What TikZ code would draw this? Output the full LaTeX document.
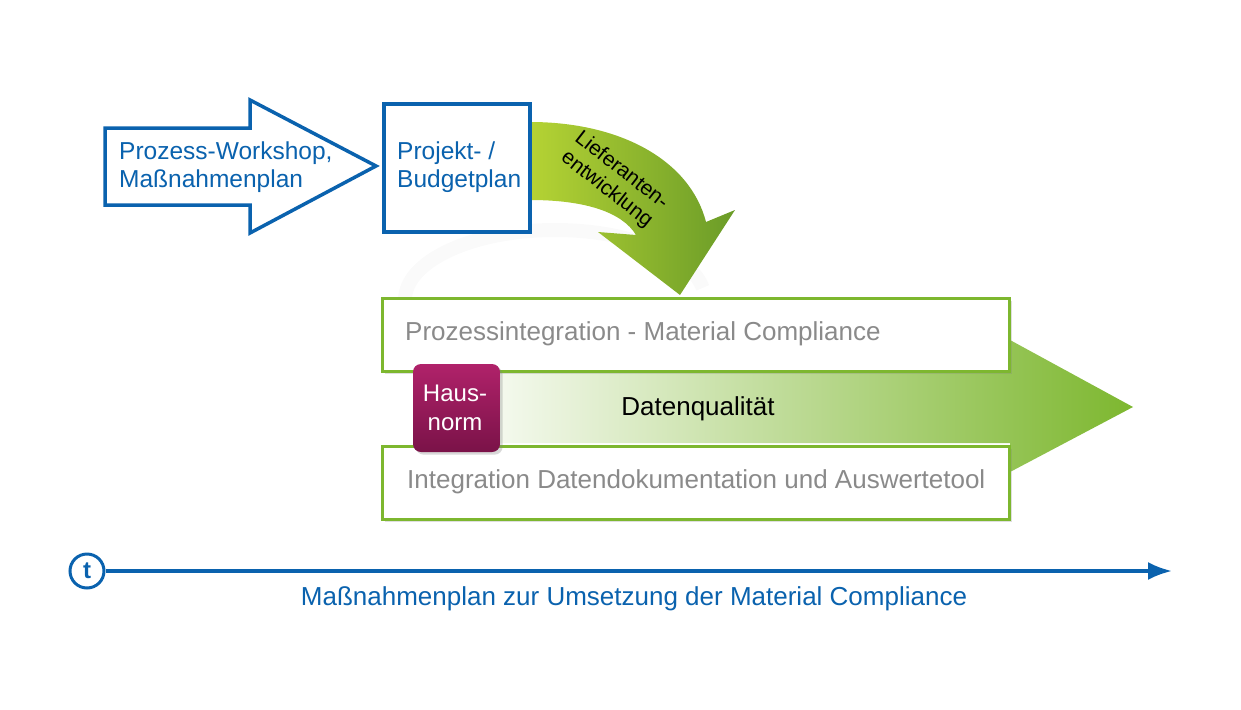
\documentclass[tikz,border=0pt]{standalone}
\usepackage{fontspec}
\setmainfont{Liberation Sans}
\usetikzlibrary{shadows,fadings,arrows.meta}
\definecolor{myblue}{HTML}{0A62AE}
\definecolor{mygreen}{HTML}{7DB72F}
\definecolor{lgreen}{HTML}{B5D334}
\definecolor{mygray}{HTML}{8A8A8A}
\definecolor{purpA}{HTML}{B0226A}
\definecolor{purpB}{HTML}{7A1248}
\begin{document}
\begin{tikzpicture}[x=1pt,y=-1pt,
  txt/.style={font=\fontsize{26}{28}\selectfont, align=left, inner sep=0},
  ttxt/.style={font=\fontsize{24.5}{28}\selectfont, align=left, inner sep=0},
  gbox/.style={draw=mygreen, line width=3pt, fill=white, drop shadow={opacity=0.25}}]
\useasboundingbox (0,0) rectangle (1241,709);
% faint ring
\draw[gray!4, line width=14pt] (405,300) arc[start angle=180,end angle=10,x radius=150,y radius=-70];
% big green arrow
\shade[left color=white, right color=mygreen]
  (440,372) -- (1010,372) -- (1010,340) -- (1133,407) -- (1010,472) -- (1010,443) -- (440,443) -- cycle;
\node[gbox, minimum width=627pt, minimum height=73pt, anchor=north west] (b1) at (381,297) {};
\node[txt, text=mygray, anchor=west] (t1) at (405,334) {Prozessintegration - Material Compliance};
\node[gbox, minimum width=627pt, minimum height=73pt, anchor=north west] (b2) at (381,445) {};
\node[txt, text=mygray, anchor=west] (t2) at (407,482) {Integration Datendokumentation und Auswertetool};
\node[txt, anchor=center] (dq) at (698,409) {Datenqualität};
% Hausnorm
\shade[top color=purpA, bottom color=purpB, rounded corners=8pt, drop shadow={opacity=0.3}]
  (413,364) rectangle (500,452);
\node[ttxt, text=white, align=center, font=\fontsize{24}{29}\selectfont] (hn) at (455,408) {Haus-\\norm};
% blue arrow
\draw[myblue, line width=3.5pt, fill=white, line join=miter]
  (105,128) -- (250,128) -- (250,100) -- (376,166) -- (250,233) -- (250,205) -- (105,205) -- cycle;
\node[ttxt, text=myblue, anchor=west] (pw) at (119,167) {Prozess-Workshop,\\Maßnahmenplan};
% curved green arrow
\shade[left color=lgreen, right color=mygreen!85!black]
  (530,122) .. controls (620,122) and (690,160) .. (706,222)
  -- (735,210) -- (680,295) -- (598,232) -- (636,235)
  .. controls (622,212) and (585,200) .. (530,200) -- cycle;
\node[font=\fontsize{21}{24}\selectfont, align=center, rotate=-38, inner sep=0] (lf) at (614,180) {Lieferanten-\\entwicklung};
% Projekt box
\node[draw=myblue, line width=3.5pt, fill=white, minimum width=146pt, minimum height=128pt, anchor=north west, drop shadow={opacity=0.3}] (pb) at (382,102) {};
\node[ttxt, text=myblue, anchor=west] (pt) at (397,167) {Projekt- /\\Budgetplan};
% timeline
\node[circle, draw=myblue, line width=3pt, minimum size=34pt, inner sep=0, text=myblue, font=\fontsize{24}{24}\selectfont\bfseries] (tc) at (87,571) {t};
\coordinate (te) at (1172,571);
\draw[myblue, line width=3.5pt, -{Latex[length=24pt,width=18pt]}] (tc) -- (te);
\node[txt, text=myblue] (tl) at (634,599) {Maßnahmenplan zur Umsetzung der Material Compliance};
\end{tikzpicture}
\end{document}
